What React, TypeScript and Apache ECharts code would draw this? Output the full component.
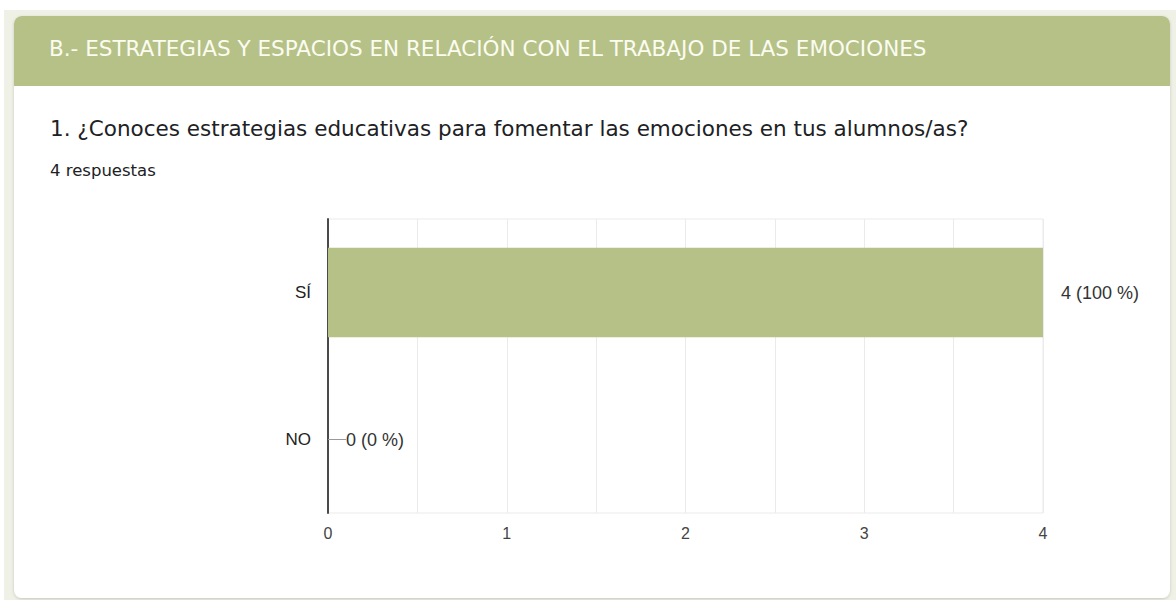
import React, { useEffect, useRef } from "react";
import * as echarts from "echarts";

const headerTitle = "B.- ESTRATEGIAS Y ESPACIOS EN RELACIÓN CON EL TRABAJO DE LAS EMOCIONES";
const questionTitle = "1. ¿Conoces estrategias educativas para fomentar las emociones en tus alumnos/as?";
const responsesText = "4 respuestas";
const categories = ["SÍ", "NO"];
const counts = [4, 0];
const totalResponses = 4;

export default function App() {
  const ref = useRef<HTMLDivElement>(null);
  useEffect(() => {
    if (!ref.current) return;
    const chart = echarts.init(ref.current, null, { renderer: "svg" });
    const green = "#b6c188";
    const arial = "'Liberation Sans', Arial, sans-serif";
    chart.setOption({
      animation: false,
      backgroundColor: "#ffffff",
      graphic: [
        { type: "rect", z: -10, shape: { x: 4, y: 10, width: 1172, height: 590 }, style: { fill: "#eff1e6" } },
        {
          type: "rect", z: -9,
          shape: { x: 14, y: 16, width: 1156, height: 582, r: 8 },
          style: { fill: "#ffffff", shadowBlur: 3, shadowColor: "rgba(0,0,0,0.18)", shadowOffsetY: 1 },
        },
        { type: "rect", z: -8, shape: { x: 14, y: 16, width: 1156, height: 70, r: [8, 8, 0, 0] }, style: { fill: green } },
        {
          type: "text", left: 49, top: 37,
          style: { text: headerTitle, fill: "#fbfcf0", font: "400 21.5px 'DejaVu Sans', sans-serif" },
        },
        {
          type: "text", left: 50, top: 117,
          style: { text: questionTitle, fill: "#202124", font: "400 21.5px 'DejaVu Sans', sans-serif" },
        },
        {
          type: "text", left: 50, top: 162,
          style: { text: responsesText, fill: "#202124", font: "400 16.5px 'DejaVu Sans', sans-serif" },
        },
      ],
      grid: { left: 328, right: 133, top: 219, bottom: 87, show: true, borderColor: "#ebebeb", borderWidth: 1 },
      xAxis: {
        type: "value", min: 0, max: 4, interval: 0.5,
        axisLine: { show: false }, axisTick: { show: false },
        axisLabel: {
          color: "#444", fontSize: 16, margin: 12, fontFamily: arial,
          formatter: (v: number) => (Number.isInteger(v) ? String(v) : ""),
        },
        splitLine: { lineStyle: { color: "#ebebeb" } },
      },
      yAxis: {
        type: "category", inverse: true, data: categories,
        axisLine: { lineStyle: { color: "#4a4a4a", width: 2 } },
        axisTick: { show: false },
        axisLabel: { color: "#222", fontSize: 17, margin: 17, fontFamily: arial },
      },
      series: [
        {
          type: "bar",
          barWidth: "61%",
          itemStyle: { color: green },
          data: counts.map((v, i) => ({
            value: v,
            label: { distance: i === 1 ? 1 : 18 },
            labelLine: i === 1 ? { show: true, lineStyle: { color: "#999", width: 1 } } : { show: false },
          })),
          label: {
            show: true, position: "right", color: "#333", fontSize: 18,
            fontFamily: arial,
            formatter: (p: any) => `${p.value} (${Math.round((p.value / totalResponses) * 100)} %)`,
          },
          labelLayout: (p: any) => (p.dataIndex === 1 ? { dx: 17 } : {}),
        },
      ],
    });
    return () => chart.dispose();
  }, []);
  return <div ref={ref} style={{ position: "absolute", left: 0, top: 0, width: 1176, height: 600 }} />;
}
